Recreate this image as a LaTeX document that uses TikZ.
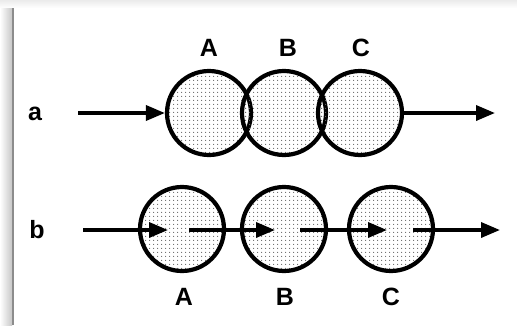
\documentclass[tikz,border=0pt]{standalone}
\usepackage{fontspec}
\setmainfont{Liberation Sans}
\usetikzlibrary{arrows.meta,patterns.meta}

% fine dot stipple for the circles
\tikzdeclarepattern{name=stipple, type=uncolored,
    bounding box={(0pt,0pt) and (4pt,4pt)}, tile size={(4pt,4pt)},
    code={\fill (2pt,2pt) circle (0.65pt);}}

\begin{document}
\begin{tikzpicture}[x=1pt,y=-1pt,
        ball/.style={circle, draw, line width=4.2pt, minimum size=84pt, inner sep=0pt,
                     pattern=stipple, pattern color=black!60},
        flow/.style={line width=3.5pt, -{Triangle[length=19pt,width=15pt]}},
        lab/.style={font=\bfseries\fontsize{25}{30}\selectfont}]
        \useasboundingbox (0,0) rectangle (517,325);
        % paper edge
        \shade[top color=black!8, bottom color=white] (0,0) rectangle (517,8);
        \shade[left color=white, right color=black!22] (0,8) rectangle (12,325);
        \draw[black!45, line width=1.5pt] (13,8) -- (13,325);

        % a: overlapping
        \node[lab] (a) at (35,114) {a};
        \node[ball] (A1) at (209,113) {};
        \node[ball] (B1) at (284,113) {};
        \node[ball] (C1) at (360,113) {};
        \node[lab] (tA1) at (209,48) {A};
        \node[lab] (tB1) at (288,48) {B};
        \node[lab] (tC1) at (361,48) {C};
        \coordinate (in1) at (78,113);
        \coordinate (out1) at (495,113);
        \draw[flow] (in1) -- (A1.west);
        \draw[flow] (C1.east) -- (out1);

        % b: apart
        \node[lab] (b) at (37,230) {b};
        \node[ball] (A2) at (182,229) {};
        \node[ball] (B2) at (284,229) {};
        \node[ball] (C2) at (391,229) {};
        \node[lab] (tA2) at (184,297) {A};
        \node[lab] (tB2) at (285,297) {B};
        \node[lab] (tC2) at (391,297) {C};
        \coordinate (p0) at (83,230);
        \coordinate (p1) at (168,230);
        \coordinate (p2) at (189,230);
        \coordinate (p3) at (275,230);
        \coordinate (p4) at (300,230);
        \coordinate (p5) at (387,230);
        \coordinate (p6) at (413,230);
        \coordinate (p7) at (500,230);
        \draw[flow] (p0) -- (p1);
        \draw[flow] (p2) -- (p3);
        \draw[flow] (p4) -- (p5);
        \draw[flow] (p6) -- (p7);
\end{tikzpicture}
\end{document}
